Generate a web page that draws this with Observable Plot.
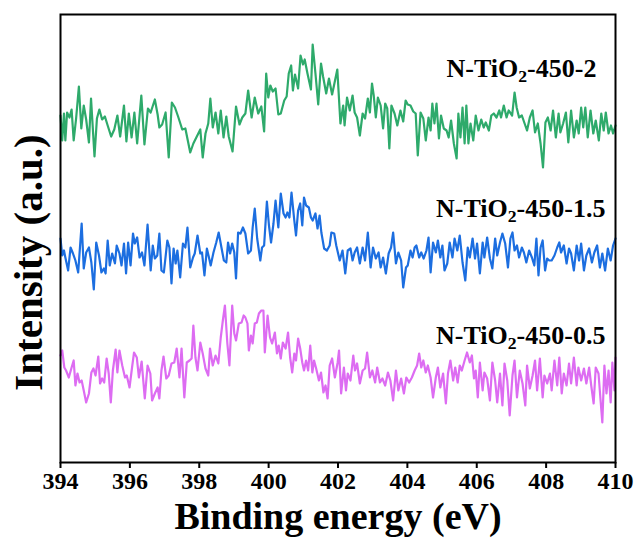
<!DOCTYPE html>
<html>
<head>
<meta charset="utf-8">
<script src="https://cdn.jsdelivr.net/npm/d3@7"></script>
<script src="https://cdn.jsdelivr.net/npm/@observablehq/plot@0.6"></script>
<style>
html, body { margin: 0; padding: 0; background: #fff; }
#chart svg { display: block; }
</style>
</head>
<body>
<div id="chart"></div>
<script>
// Binding energy ticks (eV)
const xTicks = [394, 396, 398, 400, 402, 404, 406, 408, 410];

// N-TiO2-450-2 (green, top)
const energy2 = [394.00,394.05,394.10,394.14,394.19,394.26,394.32,394.38,394.45,394.53,394.60,394.67,394.74,394.82,394.88,394.98,395.05,395.12,395.20,395.28,395.36,395.46,395.55,395.64,395.72,395.83,395.90,395.97,396.05,396.13,396.21,396.33,396.42,396.52,396.60,396.72,396.80,396.85,396.93,397.03,397.12,397.21,397.30,397.39,397.51,397.60,397.67,397.74,397.83,397.93,398.03,398.10,398.18,398.26,398.32,398.39,398.47,398.55,398.62,398.70,398.78,398.85,398.96,399.06,399.16,399.24,399.33,399.41,399.51,399.60,399.70,399.79,399.87,399.93,399.99,400.05,400.12,400.20,400.28,400.35,400.45,400.52,400.58,400.65,400.70,400.76,400.85,400.92,400.99,401.04,401.12,401.22,401.27,401.35,401.43,401.51,401.57,401.66,401.74,401.83,401.98,
402.07,402.15,402.19,402.26,402.34,402.42,402.48,402.55,402.63,402.71,402.78,402.86,402.92,402.98,403.03,403.09,403.15,403.23,403.30,403.36,403.42,403.48,403.54,403.63,403.71,403.80,403.88,403.95,404.01,404.09,404.17,404.24,404.30,404.38,404.46,404.53,404.61,404.67,404.72,404.78,404.84,404.91,404.97,405.05,405.13,405.19,405.26,405.34,405.42,405.47,405.53,405.59,405.65,405.70,405.76,405.82,405.90,405.97,406.05,406.13,406.20,406.26,406.35,406.42,406.49,406.57,406.65,406.70,406.78,406.86,406.92,407.02,407.09,407.15,407.22,407.30,407.38,407.45,407.53,407.61,407.68,407.76,407.84,407.91,407.98,408.05,408.13,408.20,408.28,408.36,408.41,408.49,408.57,408.64,408.72,408.80,408.88,408.94,409.01,409.07,409.13,409.20,409.28,409.36,409.43,409.52,409.59,409.66,409.72,409.80,409.87,409.93,410.00];
const intensity2 = [347,322,349,322,350,345,353,322,344,376,334,357,343,320,364,306,344,353,343,346,337,326,333,347,326,357,321,349,325,350,319,367,318,354,350,363,348,335,338,350,305,360,355,346,333,334,322,310,319,326,333,305,329,339,364,335,350,329,352,325,346,326,311,356,338,345,349,372,345,365,349,356,331,389,365,377,371,374,348,349,362,366,389,397,372,388,374,407,398,403,389,373,418,389,358,399,386,369,384,368,393,
339,357,337,365,352,367,350,345,327,349,344,364,350,379,367,345,365,357,334,359,354,314,357,349,337,352,341,362,358,357,351,349,307,350,344,322,345,332,359,339,359,324,347,334,332,325,342,319,304,349,325,355,319,357,319,339,322,347,332,343,335,340,332,347,349,345,352,345,357,345,352,347,370,355,345,347,339,332,345,352,330,339,319,295,340,345,332,352,325,349,330,339,350,320,352,325,342,329,355,335,355,325,352,329,342,322,349,332,350,329,337,329,337];

// N-TiO2-450-1.5 (blue, middle)
const energy15 = [394.00,394.05,394.10,394.14,394.22,394.29,394.36,394.43,394.51,394.61,394.67,394.74,394.82,394.89,394.96,395.03,395.11,395.18,395.25,395.30,395.36,395.42,395.49,395.57,395.62,395.70,395.76,395.83,395.89,395.95,396.02,396.09,396.14,396.21,396.28,396.35,396.42,396.51,396.60,396.66,396.72,396.79,396.85,396.91,396.98,397.08,397.14,397.20,397.26,397.32,397.37,397.45,397.53,397.60,397.66,397.74,397.82,397.87,397.95,398.03,398.08,398.15,398.22,398.28,398.33,398.41,398.49,398.56,398.64,398.71,398.78,398.83,398.89,398.95,399.01,399.06,399.12,399.19,399.26,399.33,399.41,399.49,399.54,399.60,399.67,399.76,399.81,399.87,399.95,400.01,400.07,400.14,400.20,400.28,400.35,400.43,400.49,400.54,400.60,400.66,400.74,400.79,400.85,400.91,400.97,401.02,401.08,401.16,401.22,401.27,401.35,401.41,401.47,401.52,401.60,401.68,401.76,401.81,401.89,401.95,
402.05,402.13,402.21,402.28,402.36,402.42,402.48,402.55,402.63,402.71,402.78,402.86,402.94,403.01,403.09,403.17,403.23,403.30,403.38,403.46,403.53,403.59,403.67,403.74,403.82,403.88,403.96,404.01,404.09,404.15,404.21,404.26,404.34,404.40,404.47,404.55,404.61,404.67,404.74,404.82,404.88,404.95,405.01,405.07,405.15,405.22,405.30,405.36,405.44,405.51,405.59,405.67,405.74,405.80,405.88,405.95,406.01,406.09,406.17,406.22,406.30,406.38,406.45,406.53,406.59,406.67,406.74,406.82,406.90,406.97,407.03,407.09,407.16,407.22,407.30,407.36,407.43,407.51,407.59,407.66,407.72,407.78,407.84,407.90,407.97,408.03,408.09,408.16,408.24,408.32,408.38,408.43,408.51,408.59,408.66,408.72,408.80,408.88,408.95,409.01,409.09,409.16,409.24,409.32,409.39,409.47,409.55,409.62,409.70,409.78,409.86,409.93,410.00];
const intensity15 = [224,207,212,205,192,215,209,202,190,239,194,210,215,200,173,220,207,190,194,189,222,197,209,199,217,209,197,219,189,220,197,229,219,225,205,210,197,238,192,217,204,207,229,192,190,222,215,179,214,199,212,185,219,215,235,195,205,209,227,209,210,187,214,205,197,210,220,230,215,202,200,220,209,219,210,184,230,229,235,229,209,212,235,254,224,202,215,217,261,237,220,239,262,235,269,249,245,250,245,270,242,227,252,259,237,265,257,255,245,242,249,234,247,230,214,212,217,230,229,217,
202,212,189,212,214,202,210,215,199,215,202,230,195,215,204,210,195,205,189,209,215,230,199,210,202,175,195,197,212,205,215,217,205,210,204,212,225,190,220,210,222,205,217,192,199,220,205,224,212,227,200,182,215,205,224,204,219,189,220,205,225,204,194,224,207,220,229,219,195,224,230,212,217,205,215,210,200,212,205,197,224,187,215,222,192,204,202,202,207,215,220,210,217,199,214,209,192,217,202,219,192,207,214,200,210,217,195,209,192,214,202,217,224];

// N-TiO2-450-0.5 (magenta, bottom)
const energy05 = [394.00,394.05,394.11,394.16,394.24,394.32,394.38,394.43,394.49,394.55,394.61,394.67,394.74,394.82,394.89,394.95,395.01,395.09,395.14,395.20,395.26,395.33,395.39,395.45,395.51,395.59,395.64,395.70,395.78,395.86,395.91,395.99,396.07,396.12,396.20,396.26,396.34,396.43,396.51,396.59,396.64,396.72,396.80,396.85,396.91,396.97,397.05,397.12,397.20,397.28,397.35,397.43,397.49,397.57,397.64,397.72,397.78,397.83,397.89,397.95,398.03,398.10,398.18,398.26,398.31,398.39,398.47,398.55,398.62,398.68,398.74,398.81,398.87,398.95,399.01,399.06,399.14,399.22,399.28,399.33,399.39,399.43,399.49,399.54,399.60,399.66,399.72,399.79,399.85,399.89,399.97,400.04,400.10,400.18,400.24,400.29,400.35,400.41,400.49,400.56,400.62,400.68,400.74,400.79,400.85,400.91,400.97,401.02,401.08,401.14,401.20,401.26,401.31,401.37,401.45,401.51,401.58,401.64,401.70,401.76,401.83,401.91,401.99,
402.03,402.09,402.17,402.23,402.28,402.36,402.44,402.49,402.55,402.63,402.71,402.78,402.84,402.92,402.99,403.07,403.13,403.21,403.28,403.36,403.44,403.51,403.59,403.67,403.74,403.82,403.90,403.97,404.05,404.13,404.21,404.28,404.34,404.40,404.46,404.53,404.59,404.67,404.74,404.82,404.88,404.95,405.03,405.11,405.17,405.24,405.32,405.38,405.45,405.51,405.57,405.65,405.72,405.80,405.86,405.92,405.97,406.03,406.09,406.17,406.22,406.30,406.38,406.45,406.53,406.59,406.67,406.74,406.80,406.88,406.95,407.03,407.09,407.16,407.24,407.32,407.40,407.45,407.53,407.61,407.68,407.74,407.82,407.90,407.95,408.03,408.11,408.16,408.24,408.32,408.38,408.45,408.51,408.59,408.66,408.72,408.80,408.88,408.93,409.01,409.09,409.16,409.24,409.30,409.37,409.43,409.51,409.57,409.62,409.68,409.74,409.80,409.86,409.91,409.97,410.00];
const intensity05 = [107,112,95,92,85,95,102,77,89,80,82,72,60,69,90,94,87,106,79,84,80,104,89,60,92,113,90,112,97,85,87,75,97,110,105,85,101,64,97,89,62,69,75,64,92,106,84,87,99,100,114,85,114,65,100,102,104,137,105,92,120,109,94,87,114,97,107,99,125,142,157,119,97,157,129,122,139,140,147,145,139,112,127,119,139,140,149,152,152,110,147,125,119,130,109,117,104,120,114,130,105,90,109,102,124,114,100,92,102,92,117,90,102,94,82,90,70,77,64,97,104,85,100,
112,69,95,72,89,82,107,92,99,79,92,94,110,85,92,80,95,80,84,77,90,82,62,92,72,84,69,85,80,85,92,97,109,95,102,90,97,85,65,85,95,75,89,59,89,102,82,95,80,97,92,102,110,100,107,84,92,65,100,72,90,84,62,100,82,60,89,57,99,82,47,87,102,65,92,79,57,97,74,87,102,72,104,65,87,79,89,72,102,77,105,69,89,77,99,79,105,77,95,82,94,79,95,77,59,95,89,62,40,97,69,92,60,100,72,105];

// Series names, colours and label anchors (eV, intensity)
const seriesNames = ["N-TiO₂-450-2", "N-TiO₂-450-1.5", "N-TiO₂-450-0.5"];
const seriesColors = ["#2eaa6b", "#1c6ee0", "#dd6cf2"];
const labelX = [409.45, 409.71, 409.71];
const labelY = [386, 246, 119];

const seriesData = [[energy2, intensity2], [energy15, intensity15], [energy05, intensity05]];
const rows = [];
seriesData.forEach(([xs, ys], k) => {
  xs.forEach((e, i) => rows.push({series: seriesNames[k], energy: e, intensity: ys[i]}));
});
const labels = seriesNames.map((name, k) => ({name, x: labelX[k], y: labelY[k]}));

const serif = "'Liberation Serif', 'Times New Roman', serif";

const chart = Plot.plot({
  width: 641,
  height: 543,
  marginTop: 14,
  marginBottom: 81,
  marginLeft: 60,
  marginRight: 26,
  style: {fontFamily: serif, background: "#fff"},
  x: {domain: [394, 410]},
  y: {domain: [0, 448], axis: null},
  color: {domain: seriesNames, range: seriesColors},
  marks: [
    Plot.line(rows, {x: "energy", y: "intensity", z: "series", stroke: "series", strokeWidth: 2.2, strokeLinejoin: "round"}),
    Plot.frame({stroke: "#000", strokeWidth: 2}),
    Plot.axisX({ticks: xTicks, tickSize: 6, tickPadding: 3, tickFormat: d => String(d), fontSize: 24, fontWeight: "bold", fontFamily: serif, strokeWidth: 2, label: null, color: "#000"}),
    Plot.text(["Binding energy (eV)"], {frameAnchor: "bottom", textAnchor: "middle", dy: 66, fontSize: 38, fontWeight: "bold", fontFamily: serif, fill: "#000"}),
    Plot.text(["Intensity (a.u.)"], {frameAnchor: "left", textAnchor: "middle", dx: -32, dy: 24, rotate: -90, fontSize: 41, fontWeight: "bold", fontFamily: serif, fill: "#000"}),
    Plot.text(labels, {x: "x", y: "y", text: "name", textAnchor: "end", lineAnchor: "bottom", fontSize: 26, fontWeight: "bold", fontFamily: serif, fill: "#000"})
  ]
});
document.getElementById("chart").appendChild(chart);

// Render the "2" of TiO2 as a real subscript
d3.select(chart).selectAll("text").each(function() {
  const t = this.textContent;
  if (t.startsWith("N-TiO₂")) {
    const rest = t.slice("N-TiO₂".length);
    const sel = d3.select(this);
    sel.text(null);
    sel.append("tspan").text("N-TiO");
    sel.append("tspan").attr("dy", "0.3em").attr("font-size", "0.68em").text("2");
    sel.append("tspan").attr("dy", "-0.2em").text(rest);
  }
});
</script>
</body>
</html>
